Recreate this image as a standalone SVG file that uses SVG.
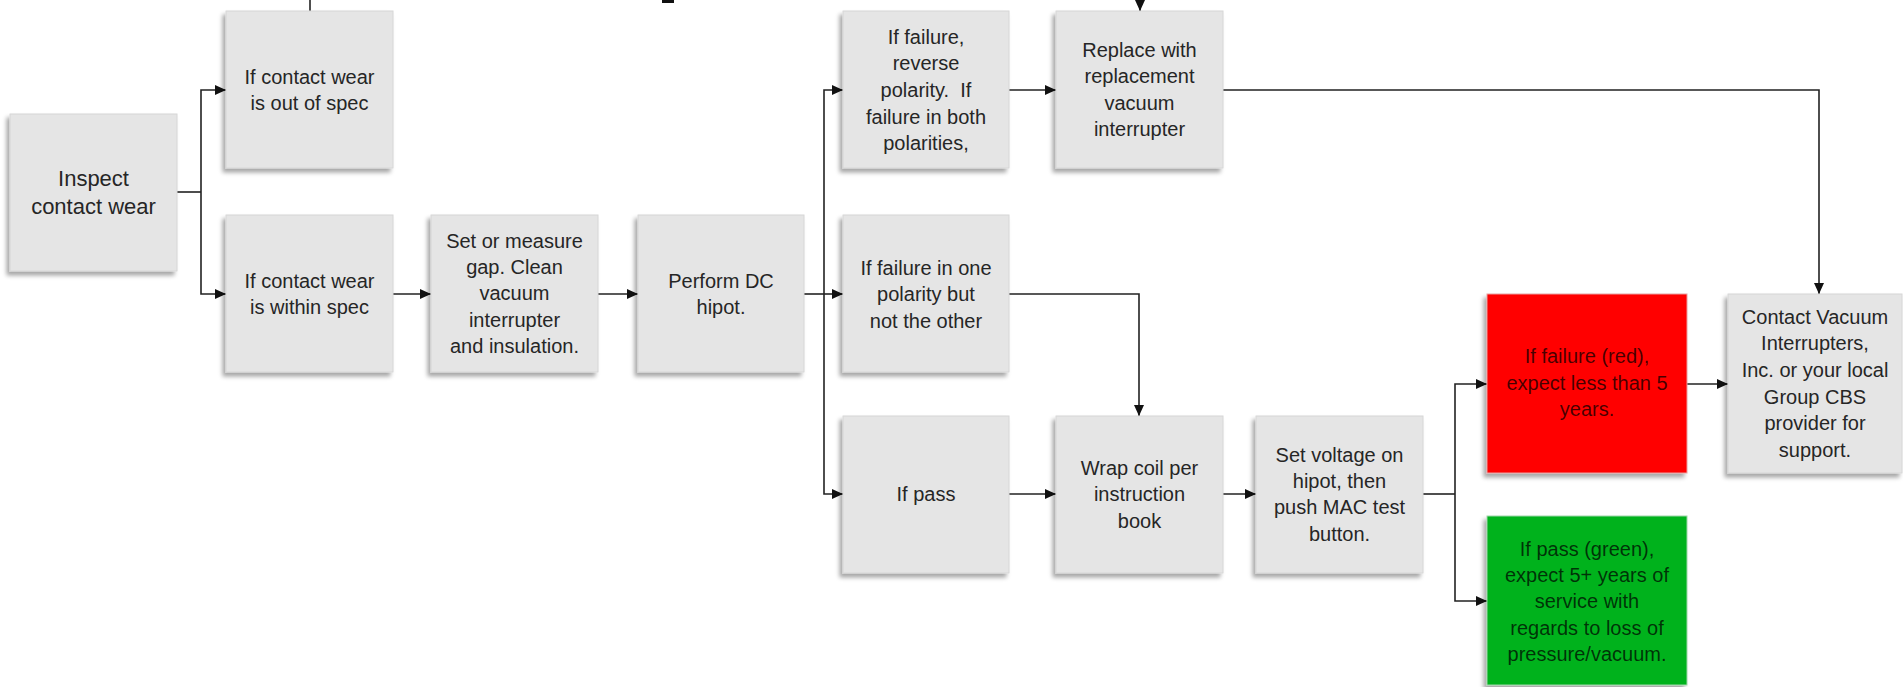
<svg xmlns="http://www.w3.org/2000/svg" width="1903" height="687" viewBox="0 0 1903 687">
<style>
  .box { fill: #e5e5e5; stroke: #d6d6d6; stroke-width: 1; filter: url(#sh); }
  .red { fill: #ff0000; stroke: #e8a0a0; stroke-width: 1; filter: url(#sh); }
  .green { fill: #00b21e; stroke: #9fd6a8; stroke-width: 1; filter: url(#sh); }
  text { font-family: "Liberation Sans", Arial, sans-serif; font-size: 20px; text-anchor: middle; fill: #262626; }
  .big { font-size: 22px; }
  .dark { fill: #000; fill-opacity: 0.72; }
  .ln { fill: none; stroke: #222; stroke-width: 1.6; }
  .ar { marker-end: url(#ah); }
</style>
<defs>
  <filter id="sh" x="-10%" y="-10%" width="120%" height="125%">
    <feDropShadow dx="-3" dy="4" stdDeviation="2" flood-color="#000" flood-opacity="0.35"/>
  </filter>
  <marker id="ah" markerWidth="11" markerHeight="10" refX="11" refY="5" orient="auto" markerUnits="userSpaceOnUse">
    <path d="M0,0 L11,5 L0,10 z" fill="#111"/>
  </marker>
</defs>
<rect width="1903" height="687" fill="#fff"/>

<g id="connectors">
  <path class="ln" d="M310,0 V11"/>
  <path class="ln ar" d="M1140,0 V11"/>
  <rect x="662" y="0" width="12" height="3" fill="#111"/>
  <path class="ln" d="M177,192 H201"/>
  <path class="ln ar" d="M201,192 V90 H226"/>
  <path class="ln ar" d="M201,192 V294 H226"/>
  <path class="ln ar" d="M393,294 H431"/>
  <path class="ln ar" d="M598,294 H638"/>
  <path class="ln" d="M804,294 H824"/>
  <path class="ln ar" d="M824,294 V90 H843"/>
  <path class="ln ar" d="M824,294 H843"/>
  <path class="ln ar" d="M824,294 V494 H843"/>
  <path class="ln ar" d="M1009,90 H1056"/>
  <path class="ln ar" d="M1223,90 H1819 V294"/>
  <path class="ln ar" d="M1009,294 H1139 V416"/>
  <path class="ln ar" d="M1009,494 H1056"/>
  <path class="ln ar" d="M1223,494 H1256"/>
  <path class="ln" d="M1423,494 H1455"/>
  <path class="ln ar" d="M1455,494 V384 H1487"/>
  <path class="ln ar" d="M1455,494 V601 H1487"/>
  <path class="ln ar" d="M1687,384 H1728"/>
</g>

<g id="inspect">
  <rect class="box" x="10" y="114" width="167" height="157"/>
  <text class="big" x="93.5" y="186">Inspect</text>
  <text class="big" x="93.5" y="214">contact wear</text>
</g>
<g id="out-of-spec">
  <rect class="box" x="226" y="11" width="167" height="157"/>
  <text x="309.5" y="84">If contact wear</text>
  <text x="309.5" y="110">is out of spec</text>
</g>
<g id="within-spec">
  <rect class="box" x="226" y="215" width="167" height="157"/>
  <text x="309.5" y="288">If contact wear</text>
  <text x="309.5" y="314">is within spec</text>
</g>
<g id="set-gap">
  <rect class="box" x="431" y="215" width="167" height="157"/>
  <text x="514.5" y="248">Set or measure</text>
  <text x="514.5" y="274">gap. Clean</text>
  <text x="514.5" y="300">vacuum</text>
  <text x="514.5" y="327">interrupter</text>
  <text x="514.5" y="353">and insulation.</text>
</g>
<g id="dc-hipot">
  <rect class="box" x="638" y="215" width="166" height="157"/>
  <text x="721" y="288">Perform DC</text>
  <text x="721" y="314">hipot.</text>
</g>
<g id="fail-reverse">
  <rect class="box" x="843" y="11" width="166" height="157"/>
  <text x="926" y="44">If failure,</text>
  <text x="926" y="70">reverse</text>
  <text x="926" y="97">polarity.&#160; If</text>
  <text x="926" y="124">failure in both</text>
  <text x="926" y="150">polarities,</text>
</g>
<g id="replace">
  <rect class="box" x="1056" y="11" width="167" height="157"/>
  <text x="1139.5" y="57">Replace with</text>
  <text x="1139.5" y="83">replacement</text>
  <text x="1139.5" y="110">vacuum</text>
  <text x="1139.5" y="136">interrupter</text>
</g>
<g id="fail-one">
  <rect class="box" x="843" y="215" width="166" height="157"/>
  <text x="926" y="275">If failure in one</text>
  <text x="926" y="301">polarity but</text>
  <text x="926" y="328">not the other</text>
</g>
<g id="if-pass">
  <rect class="box" x="843" y="416" width="166" height="157"/>
  <text x="926" y="501">If pass</text>
</g>
<g id="wrap-coil">
  <rect class="box" x="1056" y="416" width="167" height="157"/>
  <text x="1139.5" y="475">Wrap coil per</text>
  <text x="1139.5" y="501">instruction</text>
  <text x="1139.5" y="528">book</text>
</g>
<g id="set-voltage">
  <rect class="box" x="1256" y="416" width="167" height="157"/>
  <text x="1339.5" y="462">Set voltage on</text>
  <text x="1339.5" y="488">hipot, then</text>
  <text x="1339.5" y="514">push MAC test</text>
  <text x="1339.5" y="541">button.</text>
</g>
<g id="fail-red">
  <rect class="red" x="1487" y="294" width="200" height="179"/>
  <text class="dark" x="1587" y="363">If failure (red),</text>
  <text class="dark" x="1587" y="390">expect less than 5</text>
  <text class="dark" x="1587" y="416">years.</text>
</g>
<g id="pass-green">
  <rect class="green" x="1487" y="516" width="200" height="169"/>
  <text class="dark" x="1587" y="556">If pass (green),</text>
  <text class="dark" x="1587" y="582">expect 5+ years of</text>
  <text class="dark" x="1587" y="608">service with</text>
  <text class="dark" x="1587" y="635">regards to loss of</text>
  <text class="dark" x="1587" y="661">pressure/vacuum.</text>
</g>
<g id="contact">
  <rect class="box" x="1728" y="294" width="174" height="179"/>
  <text x="1815" y="324">Contact Vacuum</text>
  <text x="1815" y="350">Interrupters,</text>
  <text x="1815" y="377">Inc. or your local</text>
  <text x="1815" y="404">Group CBS</text>
  <text x="1815" y="430">provider for</text>
  <text x="1815" y="457">support.</text>
</g>
</svg>
